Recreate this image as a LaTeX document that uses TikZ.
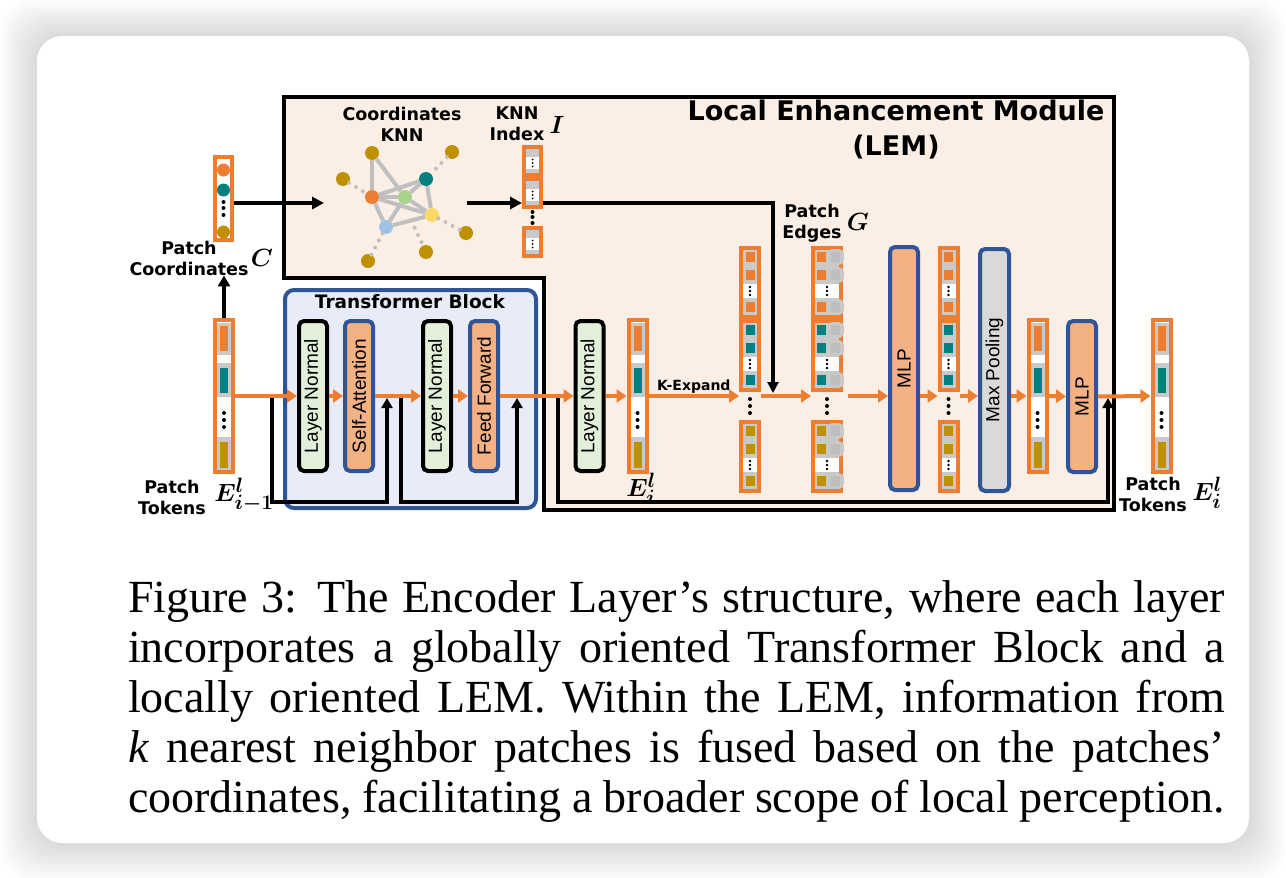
\documentclass[tikz,border=0pt]{standalone}
\usepackage{fontspec}
\setmainfont{Liberation Serif}
\setsansfont{Liberation Sans}
\newfontfamily\labfont{DejaVu Sans}
\usetikzlibrary{positioning,calc,arrows.meta}

\definecolor{tokorange}{RGB}{237,125,49}
\definecolor{tokteal}{RGB}{0,128,126}
\definecolor{tokgold}{RGB}{191,144,0}
\definecolor{cellgray}{RGB}{201,201,201}
\definecolor{blobgray}{RGB}{190,190,190}
\definecolor{lemfill}{RGB}{250,238,229}
\definecolor{tbfill}{RGB}{232,236,248}
\definecolor{tbblue}{RGB}{47,85,151}
\definecolor{lngreen}{RGB}{226,240,217}
\definecolor{opfill}{RGB}{244,177,131}
\definecolor{mpgray}{RGB}{217,217,217}
\definecolor{edgegray}{RGB}{191,191,191}
\definecolor{knngreen}{RGB}{169,209,142}
\definecolor{knnyellow}{RGB}{255,217,102}
\definecolor{knnblue}{RGB}{157,195,230}

% cells of a token vector, drawn from the top of the column
\newcommand{\tokcells}[1]{%
  \begin{scope}[shift={(#1.north)}]
    \fill[cellgray] (-7,5) rectangle (7,37);
    \fill[tokorange] (-4,8) rectangle (4,33);
    \fill[cellgray] (-7,45) rectangle (7,79);
    \fill[tokteal] (-4,50) rectangle (4,75);
    \foreach \d in {95,102,109} \fill (0,\d) circle (2pt);
    \fill[cellgray] (-7,119) rectangle (7,152);
    \fill[tokgold] (-4,124) rectangle (4,150);
  \end{scope}}
% one expanded group (k copies of one token)
\newcommand{\grpcells}[2]{%
  \begin{scope}[shift={(#1.north)}]
    \fill[cellgray] (-7,4) rectangle (7,38);
    \fill[cellgray] (-7,52) rectangle (7,69);
    \foreach \d in {6,24,56} \fill[#2] (-4.5,\d) rectangle (4.5,\d+10);
    \foreach \d in {41,45,49} \fill (0,\d) circle (1.3pt);
  \end{scope}}
% one group of patch edges
\newcommand{\edgecells}[2]{%
  \begin{scope}[shift={(#1.north)}]
    \fill[cellgray] (-12,4) rectangle (12,38);
    \fill[cellgray] (-12,52) rectangle (12,69);
    \foreach \d in {6,24,56} {
      \fill[#2] (-10,\d) rectangle (-1,\d+10);
      \fill[cellgray, rounded corners=6pt] (0,\d-3) rectangle (17,\d+13);
      \fill[blobgray] (4,\d) rectangle (13,\d+10);
    }
    \foreach \d in {41,45,49} \fill (0,\d) circle (1.3pt);
  \end{scope}}
% one group of the knn index
\newcommand{\idxcells}[1]{%
  \begin{scope}[shift={(#1.north)}]
    \fill[cellgray] (-6.5,4) rectangle (6.5,28);
    \fill[white] (-6.5,12) rectangle (6.5,24);
    \foreach \d in {14.5,18,21.5} \fill (0,\d) circle (1pt);
  \end{scope}}

\begin{document}
\begin{tikzpicture}[
  x=1pt, y=-1pt,
  blk/.style={rectangle, rounded corners=5pt, line width=4pt, inner sep=0pt, outer sep=2pt,
    minimum width=28pt, minimum height=150pt, font=\sffamily\fontsize{19}{19}\selectfont},
  normbox/.style={blk, draw=black, fill=lngreen},
  opbox/.style={blk, draw=tbblue, fill=opfill},
  tokcol/.style={rectangle, draw=tokorange, fill=white, line width=4pt, inner sep=0pt, outer sep=2pt,
    minimum width=18pt, minimum height=152pt},
  grp/.style={tokcol, minimum height=69pt},
  edgegrp/.style={grp, minimum width=28pt},
  idxgrp/.style={tokcol, minimum width=17pt, minimum height=28pt},
  lab/.style={font=\labfont\bfseries\fontsize{17.5}{21}\selectfont, align=center, inner sep=0pt},
  title/.style={font=\labfont\bfseries\fontsize{27}{35}\selectfont, align=center, inner sep=0pt},
  mathlab/.style={font=\boldmath\fontsize{30}{30}\selectfont, inner sep=0pt},
  letter/.style={font=\boldmath\fontsize{25}{25}\selectfont, inner sep=0pt},
  capline/.style={anchor=base west, inner sep=0pt, font=\fontsize{46}{50}\selectfont},
  flow/.style={draw=tokorange, line width=4pt, -{Triangle[length=10pt,width=13pt]}},
  resid/.style={draw=black, line width=4pt, -{Triangle[length=10pt,width=11pt]}},
  feed/.style={draw=black, line width=4pt, -{Triangle[length=12pt,width=12pt]}},
  kn/.style={circle, inner sep=0pt, minimum size=14pt},
  knedge/.style={draw=edgegray, line width=4pt},
  kndots/.style={draw=edgegray, line width=4pt, line cap=round, dash pattern=on 0pt off 8pt}
]
  \useasboundingbox (0,0) rectangle (1286,878);
  \fill[white] (0,0) rectangle (1286,878);
  % card and its shadow
  \foreach \s in {3,6,...,36}
    \fill[black, opacity=0.011, rounded corners=30pt] ({37-\s},{36-\s}) rectangle ({1249+\s},{843+\s});
  \fill[white, rounded corners=25pt] (37,36) rectangle (1249,843);

  % LEM outline
  \draw[line width=4pt, fill=lemfill] (284,97) -- (1114,97) -- (1114,510) -- (544,510)
    -- (544,278) -- (284,278) -- cycle;
  \node (lemt) [title] at (896,130) {Local Enhancement Module\\(LEM)};

  % transformer block
  \node (tb) [rectangle, rounded corners=9pt, draw=tbblue, fill=tbfill, line width=4pt,
    minimum width=251pt, minimum height=218pt] at (410.5,399) {};
  \node (tbt) [lab, font=\labfont\bfseries\fontsize{18.5}{21}\selectfont] at (410,302) {Transformer Block};

  \node (ln1) [normbox] at (313,396) {\rotatebox{90}{Layer Normal}};
  \node (sa) [opbox, right=14pt of ln1] {\rotatebox{90}{Self-Attention}};
  \node (ln2) [normbox, right=46pt of sa] {\rotatebox{90}{Layer Normal}};
  \node (ff) [opbox, right=15pt of ln2] {\rotatebox{90}{Feed Forward}};
  \node (ln3) [normbox] at (589.5,396) {\rotatebox{90}{Layer Normal}};

  % token vectors
  \node (tin) [tokcol] at (224,396) {};
  \tokcells{tin}
  \node (tei) [tokcol] at (637.5,396) {};
  \tokcells{tei}
  \node (tmp) [tokcol] at (1037.5,396) {};
  \tokcells{tmp}
  \node (tout) [tokcol] at (1161.5,396) {};
  \tokcells{tout}

  % expanded tokens, patch edges, edges after MLP
  \node (ex1) [grp] at (750,282.5) {};
  \node (ex2) [grp, below=0pt of ex1] {};
  \node (ex3) [grp, below=28pt of ex2] {};
  \node (pe1) [edgegrp] at (827,282.5) {};
  \node (pe2) [edgegrp, below=0pt of pe1] {};
  \node (pe3) [edgegrp, below=28pt of pe2] {};
  \node (mc1) [grp] at (948.5,282.5) {};
  \node (mc2) [grp, below=0pt of mc1] {};
  \node (mc3) [grp, below=28pt of mc2] {};
  \grpcells{ex1}{tokorange} \grpcells{ex2}{tokteal} \grpcells{ex3}{tokgold}
  \edgecells{pe1}{tokorange} \edgecells{pe2}{tokteal} \edgecells{pe3}{tokgold}
  \grpcells{mc1}{tokorange} \grpcells{mc2}{tokteal} \grpcells{mc3}{tokgold}
  \foreach \c in {ex,pe,mc}
    \foreach \d in {7,14,21} \fill ($(\c2.south)+(0,\d)$) circle (2pt);

  \node (mlp1) [opbox, minimum height=243pt] at (904,368.5) {\rotatebox{90}{MLP}};
  \node (mp) [blk, draw=tbblue, fill=mpgray, minimum width=29pt, minimum height=242pt]
    at (994.5,370) {\rotatebox{90}{Max Pooling}};
  \node (mlp2) [opbox, minimum height=151pt] at (1082,396.5) {\rotatebox{90}{MLP}};

  % patch coordinates
  \node (cc) [tokcol, minimum width=17pt, minimum height=83pt] at (223.5,198.5) {};
  \fill[tokorange] (223.5,170) circle (6.5pt);
  \fill[tokteal] (223.5,190) circle (6.5pt);
  \foreach \d in {202,208,215} \fill (223.5,\d) circle (2pt);
  \fill[tokgold] (223.5,232) circle (6.5pt);

  % knn graph
  \node (nb1) [kn, fill=tokgold] at (372,153) {};
  \node (nb2) [kn, fill=tokgold] at (452,152) {};
  \node (nb3) [kn, fill=tokgold] at (343,179) {};
  \node (nb4) [kn, fill=tokgold] at (466,233) {};
  \node (nb5) [kn, fill=tokgold] at (426,252) {};
  \node (nb6) [kn, fill=tokgold] at (368,261) {};
  \node (ko) [kn, fill=tokorange] at (372,197) {};
  \node (kt) [kn, fill=tokteal] at (426,179) {};
  \node (kg) [kn, fill=knngreen] at (405,197) {};
  \node (ky) [kn, fill=knnyellow] at (432,215) {};
  \node (kb) [kn, fill=knnblue] at (386,227) {};
  \draw[kndots] ($(kb)!0.55!(ky)$) -- (nb5);
  \foreach \a/\b in {nb3/ko, nb2/kt, ky/nb4, kb/nb6}
    \draw[kndots] (\a) -- (\b);
  \foreach \a/\b in {nb1/ko, nb1/kg, ko/kt, ko/kg, ko/ky, ko/kb, kg/kt, kg/ky, kg/kb, kt/ky, kb/ky}
    \draw[knedge] (\a) -- (\b);

  % knn index
  \node (ix1) [idxgrp] at (532.5,161) {};
  \node (ix2) [idxgrp, below=0pt of ix1] {};
  \node (ix3) [idxgrp, below=17pt of ix2] {};
  \idxcells{ix1} \idxcells{ix2} \idxcells{ix3}
  \foreach \d in {3,8,14} \fill ($(ix2.south)+(0,\d)$) circle (2pt);

  % labels
  \node (pcl) [lab] at (189,258) {Patch\\Coordinates};
  \node (pcc) [letter] at (262,258) {$C$};
  \node (knl) [lab] at (402,124) {Coordinates\\KNN};
  \node (ixl) [lab] at (517,124) {KNN\\Index};
  \node (ixi) [letter] at (557,125) {$I$};
  \node (pel) [lab] at (812,223) {Patch\\Edges};
  \node (peg) [letter] at (858,222) {$G$};
  \node (tinl) [lab] at (172,497) {Patch\\Tokens};
  \node (tine) [mathlab] at (244,495) {$E_{i-1}^{l}$};
  \node (teil) [mathlab] at (641,489) {$E_{i}^{l}$};
  \node (toutl) [lab] at (1153,494) {Patch\\Tokens};
  \node (toute) [mathlab] at (1207,493) {$E_{i}^{l}$};

  % top connectors
  \coordinate (krow) at (0,203);
  \coordinate (gin) at (324,203);
  \coordinate (gout) at (467,203);
  \coordinate (kdrop) at (773,393);
  \draw[feed] (cc.east |- krow) -- (gin);
  \draw[feed] (gout) -- (ix2.west |- krow);
  \draw[feed, line width=3.5pt, -{Triangle[length=11pt,width=11pt]}] (ix2.east |- krow) -| (kdrop);
  \draw[feed, -{Triangle[length=11pt,width=12pt]}] (tin.north) -- (tin.north |- pcl.south);

  % residual paths
  \coordinate (rbot) at (0,502);
  \coordinate (r1s) at (272,396);
  \coordinate (r1e) at (387,398);
  \coordinate (r2s) at (401,396);
  \coordinate (r2e) at (517,398);
  \coordinate (r3s) at (558,396);
  \coordinate (r3e) at (1108,398);
  \draw[resid] (r1s) -- (r1s |- rbot) -| (r1e);
  \draw[resid] (r2s) -- (r2s |- rbot) -| (r2e);
  \draw[resid] (r3s) -- (r3s |- rbot) -| (r3e);

  % main flow
  \coordinate (flow) at (0,396);
  \draw[flow] (tin.east) -- (ln1.west);
  \draw[flow] (ln1.east) -- (sa.west);
  \draw[flow] (sa.east) -- (ln2.west);
  \draw[flow] (ln2.east) -- (ff.west);
  \draw[flow] (ff.east) -- (ln3.west);
  \draw[flow] (ln3.east) -- (tei.west);
  \draw[flow] (tei.east) -- (ex2.west |- flow)
    node[midway, above=1pt, font=\labfont\bfseries\fontsize{14}{14}\selectfont, inner sep=0pt] {K-Expand};
  \draw[flow] (ex2.east |- flow) -- (pe2.west |- flow);
  \draw[flow, shorten <=5pt] (pe2.east |- flow) -- (mlp1.west |- flow);
  \draw[flow] (mlp1.east |- flow) -- (mc2.west |- flow);
  \draw[flow] (mc2.east |- flow) -- (mp.west |- flow);
  \draw[flow] (mp.east |- flow) -- (tmp.west);
  \draw[flow] (tmp.east) -- (mlp2.west);
  \draw[flow] (mlp2.east) -- (tout.west);

  % caption
  \node (cap1) [capline] at (128,612) {\makebox[1097pt][s]{Figure 3: The Encoder Layer's structure, where each layer}};
  \node (cap2) [capline] at (128,662) {\makebox[1097pt][s]{incorporates a globally oriented Transformer Block and a}};
  \node (cap3) [capline] at (128,712) {\makebox[1097pt][s]{locally oriented LEM. Within the LEM, information from}};
  \node (cap4) [capline] at (128,762) {\makebox[1097pt][s]{\textit{k} nearest neighbor patches is fused based on the patches'}};
  \node (cap5) [capline] at (128,812) {\makebox[1097pt][s]{coordinates, facilitating a broader scope of local perception.}};
\end{tikzpicture}
\end{document}
